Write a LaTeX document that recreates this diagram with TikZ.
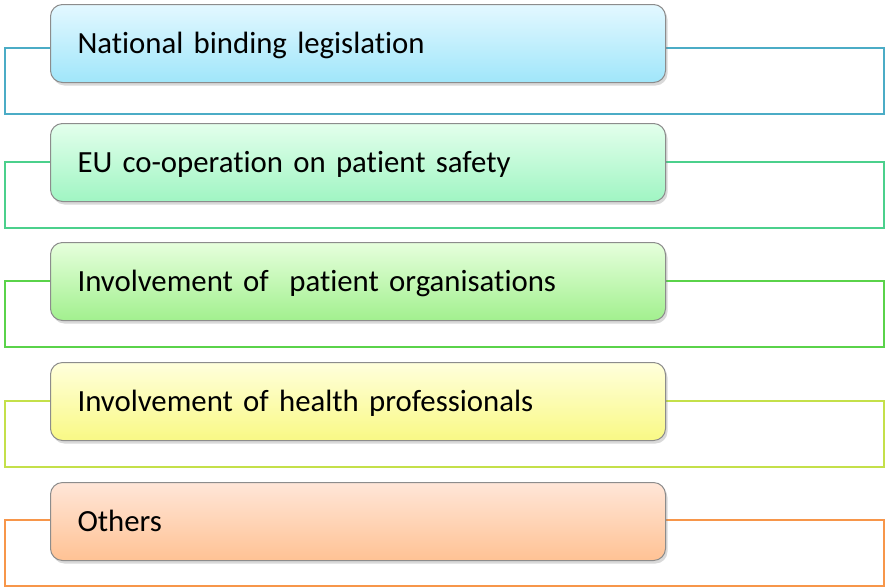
\documentclass[tikz,border=0pt]{standalone}
\usepackage{fontspec}
\setmainfont[Ligatures=NoCommon]{Carlito}
\usetikzlibrary{shadows}

\definecolor{topA}{HTML}{E3F8FF} \definecolor{botA}{HTML}{A0E6FA} \definecolor{lineA}{HTML}{4BACC6}
\definecolor{topB}{HTML}{E3FFEC} \definecolor{botB}{HTML}{A0F5C3} \definecolor{lineB}{HTML}{4BD08C}
\definecolor{topC}{HTML}{E6FFDC} \definecolor{botC}{HTML}{A2F08E} \definecolor{lineC}{HTML}{5AD34A}
\definecolor{topD}{HTML}{FFFFDC} \definecolor{botD}{HTML}{F9F985} \definecolor{lineD}{HTML}{C4E04A}
\definecolor{topE}{HTML}{FFE6D8} \definecolor{botE}{HTML}{FFC294} \definecolor{lineE}{HTML}{F7964A}

\tikzset{
    itembox/.style={draw=black!45, line width=1pt, rounded corners=12pt,
        anchor=north west, minimum width=615pt, minimum height=78pt,
        text width=561pt, inner xsep=27pt, align=left,
        text height=20pt, text depth=0pt, font=\fontsize{30.8}{36}\selectfont,
        drop shadow={opacity=0.3, shadow xshift=2pt, shadow yshift=-3pt}},
    frameline/.style={line width=2pt}
}

% #1 row letter, #2 box top, #3 frame top, #4 text
\newcommand\itemrow[4]{
    \draw [frameline, draw=line#1] (5,#3) rectangle (884,{#3+66});
    \node [itembox, top color=top#1, bottom color=bot#1] (item#1) at (50,#2) {#4};
}

\begin{document}
\begin{tikzpicture}[x=1pt, y=-1pt]
    \useasboundingbox (0,0) rectangle (885,587);

    \itemrow{A}{4}{48}{National binding legislation}
    \itemrow{B}{123}{162}{EU co-operation on patient safety}
    \itemrow{C}{242}{281}{Involvement of~ patient organisations}
    \itemrow{D}{362}{401}{Involvement of health professionals}
    \itemrow{E}{482}{520}{Others}

\end{tikzpicture}
\end{document}
